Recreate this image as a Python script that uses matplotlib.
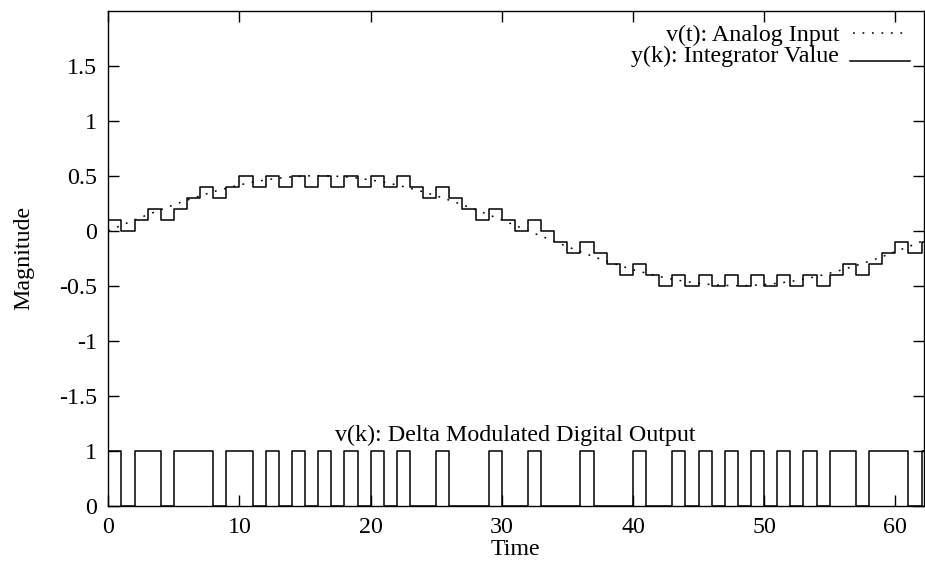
import matplotlib
matplotlib.use("Agg")
import matplotlib.pyplot as plt
import numpy as np

plt.rcParams['font.family'] = ['Liberation Serif', 'DejaVu Serif']

# sample instants
k_samples = list(range(0, 63))

# v(t): analog input read at integer times
analog = [0.000, 0.049, 0.098, 0.145, 0.191, 0.236, 0.278, 0.317, 0.354, 0.386,
          0.416, 0.441, 0.462, 0.478, 0.490, 0.498, 0.500, 0.498, 0.490, 0.478,
          0.462, 0.441, 0.416, 0.386, 0.354, 0.317, 0.278, 0.236, 0.191, 0.145,
          0.098, 0.049, 0.000, -0.049, -0.098, -0.145, -0.191, -0.236, -0.278, -0.317,
          -0.354, -0.386, -0.416, -0.441, -0.462, -0.478, -0.490, -0.498, -0.500, -0.498,
          -0.490, -0.478, -0.462, -0.441, -0.416, -0.386, -0.354, -0.317, -0.278, -0.236,
          -0.191, -0.145, -0.098, -0.049]
analog_t = list(range(0, 64))

# y(k): integrator value
integrator = [0.1, 0.0, 0.1, 0.2, 0.1, 0.2, 0.3, 0.4, 0.3, 0.4,
              0.5, 0.4, 0.5, 0.4, 0.5, 0.4, 0.5, 0.4, 0.5, 0.4,
              0.5, 0.4, 0.5, 0.4, 0.3, 0.4, 0.3, 0.2, 0.1, 0.2,
              0.1, 0.0, 0.1, 0.0, -0.1, -0.2, -0.1, -0.2, -0.3, -0.4,
              -0.3, -0.4, -0.5, -0.4, -0.5, -0.4, -0.5, -0.4, -0.5, -0.4,
              -0.5, -0.4, -0.5, -0.4, -0.5, -0.4, -0.3, -0.4, -0.3, -0.2,
              -0.1, -0.2, -0.1]

# v(k): delta modulated digital output bits
bits = [1, 0, 1, 1, 0, 1, 1, 1, 0, 1,
        1, 0, 1, 0, 1, 0, 1, 0, 1, 0,
        1, 0, 1, 0, 0, 1, 0, 0, 0, 1,
        0, 0, 1, 0, 0, 0, 1, 0, 0, 0,
        1, 0, 0, 1, 0, 1, 0, 1, 0, 1,
        0, 1, 0, 1, 0, 1, 1, 0, 1, 1,
        1, 0, 1]

ytick_pos = [-2.5, -2.0, -1.5, -1.0, -0.5, 0.0, 0.5, 1.0, 1.5]
ytick_labels = ["0", "1", "-1.5", "-1", "-0.5", "0", "0.5", "1", "1.5"]
xticks = [0, 10, 20, 30, 40, 50, 60]

fs = 17.3
dotted = (0, (1.2, 5.0))
fig = plt.figure(figsize=(9.25, 5.66), dpi=100)
ax = fig.add_axes([108.3/925, 1 - 505.7/566, (923.5 - 108.3)/925, (505.7 - 10.7)/566])

t_step = k_samples + [k_samples[-1] + 1]
ax.plot(analog_t, analog, color='black', lw=1.1, linestyle=dotted)
ax.plot(t_step, integrator + [integrator[-1]], color='black', lw=1.1, drawstyle='steps-post')
dig = [-2.5 + 0.5 * b for b in bits]
ax.plot(t_step, dig + [dig[-1]], color='black', lw=1.1, drawstyle='steps-post', clip_on=True)

ax.set_xlim(0, 62.15)
ax.set_ylim(-2.5, 2.0)
ax.set_xticks(xticks)
ax.set_xticklabels([str(x) for x in xticks])
ax.set_yticks(ytick_pos)
ax.set_yticklabels(ytick_labels)
ax.tick_params(direction='in', length=8, width=1.0, top=True, right=True,
               labelsize=fs, colors='black')
ax.tick_params(axis='x', pad=8)
ax.tick_params(axis='y', pad=8)
for s in ax.spines.values():
    s.set_linewidth(1.0)

ax.set_xlabel("Time", fontsize=fs, labelpad=1)
ax.set_ylabel("Magnitude", fontsize=fs, labelpad=18)

ax.text(31.0, -1.86, "v(k): Delta Modulated Digital Output", ha='center', va='center', fontsize=fs)

# legend
fig.text(839/925, 1 - 35/566, "v(t): Analog Input", ha='right', va='center', fontsize=fs)
fig.text(839/925, 1 - 56/566, "y(k): Integrator Value", ha='right', va='center', fontsize=fs)
fig.add_artist(plt.Line2D([853/925, 907/925], [1 - 33/566, 1 - 33/566], color='black', lw=1.1,
                          linestyle=dotted))
fig.add_artist(plt.Line2D([850/925, 910/925], [1 - 61/566, 1 - 61/566], color='black', lw=1.1))

fig.savefig("out.png", dpi=100)
